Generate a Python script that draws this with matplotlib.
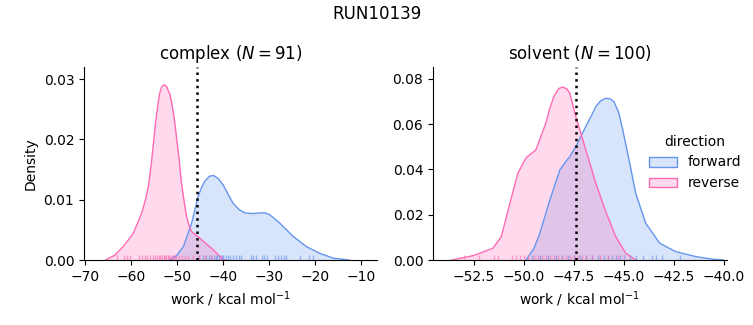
import matplotlib.pyplot as plt
from matplotlib.colors import to_rgba
from matplotlib.patches import Patch

# colours for the two directions
blue = "#6495ED"
pink = "#FF69B4"

# density curves (work, density)
cx_fwd_x = [-51.5, -50.0, -48.6, -46.8, -45.4, -44.6, -43.9, -42.9, -42.0, -41.0, -39.9, -38.8, -37.8,
            -36.4, -35.2, -33.5, -32.0, -30.8, -29.8, -27.6, -24.7, -21.8, -18.9, -16.0, -12.5]
cx_fwd_y = [0.0, 0.0008, 0.0022, 0.0061, 0.0105, 0.0121, 0.0131, 0.0139, 0.0140, 0.0135, 0.0124, 0.0108, 0.0094,
            0.0083, 0.0078, 0.0077, 0.0078, 0.0078, 0.0075, 0.0061, 0.0039, 0.0022, 0.0011, 0.0003, 0.0]
cx_rev_x = [-65.5, -63.5, -61.7, -59.5, -57.7, -56.9, -56.2, -55.6, -55.1, -54.6, -54.1, -53.7, -53.3,
            -52.9, -52.6, -52.2, -51.9, -51.5, -51.2, -50.6, -50.1, -49.5, -49.0, -48.4, -47.9,
            -47.3, -46.8, -45.0, -43.5, -42.1, -40.0, -39.5]
cx_rev_y = [0.0, 0.0008, 0.0022, 0.0044, 0.0077, 0.0098, 0.0122, 0.0157, 0.0194, 0.0230, 0.0260, 0.0278, 0.0287,
            0.0290, 0.0290, 0.0287, 0.0281, 0.0274, 0.0263, 0.0236, 0.0204, 0.0165, 0.0127, 0.0095, 0.0072,
            0.0056, 0.0047, 0.0036, 0.0026, 0.0017, 0.0001, 0.0]

sv_fwd_x = [-49.9, -49.5, -49.2, -48.7, -48.2, -47.9, -47.7, -47.4, -46.9, -46.6, -46.4, -46.15, -45.9,
            -45.7, -45.5, -45.25, -45.05, -44.7, -44.4, -43.9, -43.2, -42.4, -41.4, -40.5, -40.0]
sv_fwd_y = [0.0, 0.005, 0.0118, 0.0265, 0.0397, 0.0435, 0.0456, 0.050, 0.0589, 0.0640, 0.0677, 0.0703, 0.0714,
            0.0712, 0.0700, 0.0650, 0.0574, 0.0427, 0.0294, 0.0162, 0.0074, 0.0037, 0.0015, 0.0003, 0.0]
sv_rev_x = [-53.6, -52.5, -51.55, -51.13, -50.7, -50.3, -49.9, -49.4, -48.9, -48.7, -48.5, -48.25, -48.05,
            -47.85, -47.7, -47.4, -46.9, -46.4, -45.9, -45.4, -44.9, -44.4]
sv_rev_y = [0.0, 0.002, 0.0052, 0.0103, 0.025, 0.0383, 0.045, 0.0486, 0.0604, 0.0670, 0.0721, 0.0757, 0.0763,
            0.0755, 0.0736, 0.0633, 0.0486, 0.0339, 0.0213, 0.0103, 0.003, 0.0]

# rug ticks (individual work values, estimated)
cx_fwd_rug = [-45.2, -44.3, -43.6, -43.0, -42.5, -42.0, -41.6, -41.2, -40.8, -40.3, -39.9, -39.4,
              -38.9, -38.4, -37.8, -37.2, -36.6, -36.0, -33.9, -33.4, -32.8, -31.6, -31.0, -30.5,
              -28.7, -28.0, -27.4, -26.8, -26.2, -23.3, -21.3, -20.4]
cx_rev_rug = [-63.0, -61.5, -60.8, -60.1, -58.2, -57.6, -57.0, -56.4, -55.9, -55.3, -54.8, -54.4,
              -54.0, -53.6, -53.2, -52.9, -52.6, -52.3, -52.0, -51.7, -51.4, -51.1, -50.8, -50.5,
              -50.1, -49.6, -49.0, -48.3, -47.5, -46.5, -45.3, -44.0, -42.6, -40.5]
sv_fwd_rug = [-49.6, -49.2, -48.8, -48.4, -48.1, -47.8, -47.5, -47.2, -46.9, -46.6, -46.3, -46.0,
              -45.8, -45.6, -45.4, -45.2, -45.0, -44.7, -44.4, -44.05, -43.6, -43.4, -43.1, -42.2]
sv_rev_rug = [-53.0, -52.25, -51.5, -51.3, -50.6, -50.4, -50.2, -50.0, -49.8, -49.5, -49.3, -49.1,
              -48.9, -48.7, -48.5, -48.3, -48.1, -47.9, -47.7, -47.5, -47.3, -47.1, -46.9, -46.6,
              -46.2, -45.8, -45.3]

# dotted reference lines
cx_line = -45.7
sv_line = -47.4

titles = ["complex ($N = 91$)", "solvent ($N = 100$)"]

fig = plt.figure(figsize=(7.53, 3.25), dpi=100)
ax1 = fig.add_axes([0.1116, 0.2, 0.389, 0.594])
ax2 = fig.add_axes([0.575, 0.2, 0.390, 0.594])


def draw(ax, fx, fy, rx, ry, frug, rrug, line, title):
    ax.fill_between(fx, fy, color=blue, alpha=0.25, lw=0)
    ax.plot(fx, fy, color=blue, lw=1)
    ax.fill_between(rx, ry, color=pink, alpha=0.25, lw=0)
    ax.plot(rx, ry, color=pink, lw=1)
    tr = ax.get_xaxis_transform()
    ax.vlines(frug, 0, 0.025, transform=tr, color=blue, lw=1, alpha=0.6)
    ax.vlines(rrug, 0, 0.025, transform=tr, color=pink, lw=1, alpha=0.6)
    ax.axvline(line, color="k", ls=":", lw=1.8)
    ax.set_title(title, fontsize=12)
    ax.set_xlabel("work / kcal mol$^{-1}$")
    ax.spines["top"].set_visible(False)
    ax.spines["right"].set_visible(False)


draw(ax1, cx_fwd_x, cx_fwd_y, cx_rev_x, cx_rev_y, cx_fwd_rug, cx_rev_rug, cx_line, titles[0])
draw(ax2, sv_fwd_x, sv_fwd_y, sv_rev_x, sv_rev_y, sv_fwd_rug, sv_rev_rug, sv_line, titles[1])

ax1.set_xlim(-70.2, -6.5)
ax1.set_ylim(0, 0.032)
ax1.set_xticks([-70, -60, -50, -40, -30, -20, -10])
ax1.set_yticks([0, 0.01, 0.02, 0.03])
ax1.set_yticklabels(["0.00", "0.01", "0.02", "0.03"])
ax1.set_ylabel("Density")

ax2.set_xlim(-54.55, -39.85)
ax2.set_ylim(0, 0.0852)
ax2.set_xticks([-52.5, -50.0, -47.5, -45.0, -42.5, -40.0])
ax2.set_xticklabels(["\u221252.5", "\u221250.0", "\u221247.5", "\u221245.0", "\u221242.5", "\u221240.0"])
ax2.set_yticks([0, 0.02, 0.04, 0.06, 0.08])
ax2.set_yticklabels(["0.00", "0.02", "0.04", "0.06", "0.08"])

handles = [Patch(facecolor=to_rgba(blue, 0.25), edgecolor=blue, lw=1),
           Patch(facecolor=to_rgba(pink, 0.25), edgecolor=pink, lw=1)]
fig.legend(handles, ["forward", "reverse"], title="direction", frameon=False,
           loc="center left", bbox_to_anchor=(0.845, 0.5))

fig.suptitle("RUN10139", fontsize=12, y=0.985)
fig.savefig("out.png", dpi=100)
